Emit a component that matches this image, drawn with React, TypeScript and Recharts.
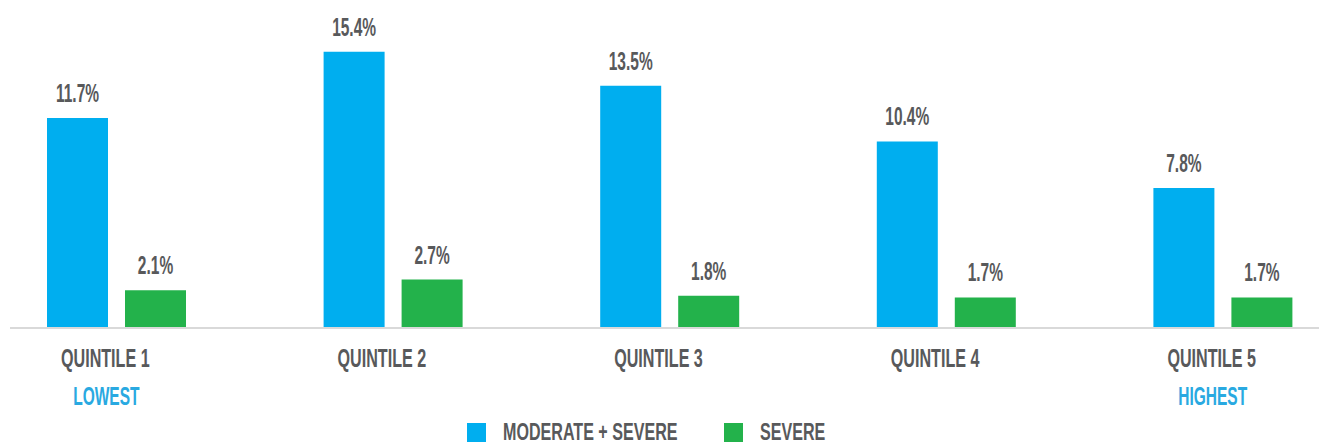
import React from 'react';
import { BarChart, Bar, XAxis, YAxis, LabelList, Legend } from 'recharts';

const categories = ['QUINTILE 1', 'QUINTILE 2', 'QUINTILE 3', 'QUINTILE 4', 'QUINTILE 5'];
const subLabels = ['LOWEST', '', '', '', 'HIGHEST'];
const moderateSevere = [11.7, 15.4, 13.5, 10.4, 7.8];
const severe = [2.1, 2.7, 1.8, 1.7, 1.7];

const BLUE = '#00AEEF';
const GREEN = '#23B24B';
const TEXT = '#58595B';
const SUB = '#29A9E1';
const FONT = "'Liberation Sans', Arial, sans-serif";
const SQUEEZE = 0.62;

const data = categories.map((name, i) => ({
  name,
  sub: subLabels[i],
  modSev: moderateSevere[i],
  sev: severe[i],
}));

// value labels above the bars
const ValueLabel = (props: any) => {
  const { x, y, width, value } = props;
  const cx = Number(x) + Number(width) / 2;
  return (
    <text
      transform={`translate(${cx},${Number(y) - 16}) scale(${SQUEEZE},1)`}
      textAnchor="middle"
      fontFamily={FONT}
      fontWeight="bold"
      fontSize={25}
      fill={TEXT}
    >
      {value.toFixed(1)}%
    </text>
  );
};

const QuintileTick = (props: any) => {
  const { x, y, payload, index } = props;
  const cx = Number(x) - 11;
  const sub = subLabels[index];
  return (
    <g>
      <text
        transform={`translate(${cx},${Number(y) + 31}) scale(${SQUEEZE},1)`}
        textAnchor="middle"
        fontFamily={FONT}
        fontWeight="bold"
        fontSize={26}
        fill={TEXT}
      >
        {payload.value}
      </text>
      {sub && (
        <text
          transform={`translate(${cx + 1},${Number(y) + 69}) scale(${SQUEEZE},1)`}
          textAnchor="middle"
          fontFamily={FONT}
          fontWeight="bold"
          fontSize={25}
          fill={SUB}
        >
          {sub}
        </text>
      )}
    </g>
  );
};

const LegendContent = () => (
  <svg width={1309} height={25} style={{ display: 'block', overflow: 'visible' }}>
    <rect x={457} y={1} width={19} height={19} fill={BLUE} />
    <text
      transform={`translate(493,18) scale(0.7,1)`}
      fontFamily={FONT}
      fontWeight="bold"
      fontSize={23}
      fill={TEXT}
    >
      MODERATE + SEVERE
    </text>
    <rect x={714} y={1} width={19} height={19} fill={GREEN} />
    <text
      transform={`translate(750,18) scale(0.7,1)`}
      fontFamily={FONT}
      fontWeight="bold"
      fontSize={23}
      fill={TEXT}
    >
      SEVERE
    </text>
  </svg>
);

export default function App() {
  return (
    <div style={{ position: 'absolute', left: 0, top: 0, width: 1319, height: 447, background: '#fff', overflow: 'hidden' }}>
      <BarChart
        width={1319}
        height={447}
        data={data}
        margin={{ top: 5, right: 0, left: 10, bottom: 0 }}
        barSize={61}
        barGap={17}
      >
        <XAxis
          dataKey="name"
          height={94}
          padding={{ left: -32, right: -42 }}
          axisLine={{ stroke: '#D9D9D9', strokeWidth: 2 }}
          tickLine={false}
          interval={0}
          tick={<QuintileTick />}
        />
        <YAxis hide domain={[0, 18]} />
        <Legend verticalAlign="bottom" height={25} content={<LegendContent />} />
        <Bar dataKey="modSev" name="MODERATE + SEVERE" fill={BLUE} isAnimationActive={false}>
          <LabelList dataKey="modSev" content={<ValueLabel />} />
        </Bar>
        <Bar dataKey="sev" name="SEVERE" fill={GREEN} isAnimationActive={false}>
          <LabelList dataKey="sev" content={<ValueLabel />} />
        </Bar>
      </BarChart>
    </div>
  );
}
